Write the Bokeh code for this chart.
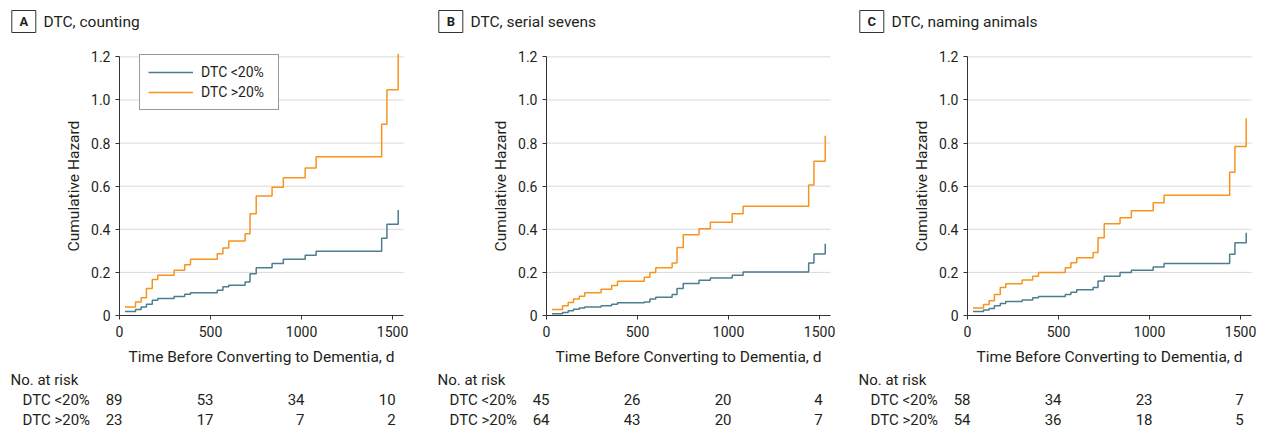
from bokeh.plotting import figure
from bokeh.layouts import row
from bokeh.models import (Range1d, FixedTicker, CustomJSTickFormatter, LinearAxis,
                          Legend, LegendItem)
from bokeh.core.properties import value
from bokeh.embed import file_html
from bokeh.resources import INLINE

# ---------------- data ----------------
times = [30, 88, 119, 148, 180, 210, 300, 358, 390, 537, 568, 600,
         690, 717, 751, 838, 900, 1020, 1080, 1440, 1469, 1531]

a_low = [0.0185, 0.028, 0.040, 0.052, 0.071, 0.079, 0.088, 0.099, 0.106, 0.117, 0.133,
         0.140, 0.156, 0.194, 0.222, 0.241, 0.261, 0.279, 0.298, 0.358, 0.423, 0.490]
a_high = [0.040, 0.063, 0.082, 0.125, 0.167, 0.187, 0.210, 0.236, 0.261, 0.287, 0.313,
          0.346, 0.379, 0.472, 0.554, 0.595, 0.639, 0.685, 0.737, 0.887, 1.047, 1.215]

b_low = [0.008, 0.014, 0.022, 0.029, 0.035, 0.040, 0.045, 0.052, 0.059, 0.063, 0.076,
         0.085, 0.097, 0.125, 0.148, 0.164, 0.174, 0.187, 0.202, 0.244, 0.285, 0.333]
b_high = [0.028, 0.045, 0.060, 0.076, 0.089, 0.106, 0.122, 0.139, 0.159, 0.177, 0.199,
          0.221, 0.244, 0.315, 0.375, 0.403, 0.433, 0.472, 0.507, 0.606, 0.716, 0.834]

c_low = [0.0185, 0.025, 0.032, 0.045, 0.056, 0.065, 0.072, 0.082, 0.088, 0.097, 0.108,
         0.120, 0.130, 0.160, 0.182, 0.199, 0.210, 0.225, 0.241, 0.284, 0.338, 0.384]
c_high = [0.035, 0.051, 0.068, 0.097, 0.130, 0.147, 0.165, 0.182, 0.200, 0.222, 0.245,
          0.268, 0.292, 0.361, 0.426, 0.453, 0.486, 0.523, 0.558, 0.665, 0.784, 0.915]

risk_times = [0, 500, 1000, 1500]
a_risk_low = [89, 53, 34, 10]
a_risk_high = [23, 17, 7, 2]
b_risk_low = [45, 26, 20, 4]
b_risk_high = [64, 43, 20, 7]
c_risk_low = [58, 34, 23, 7]
c_risk_high = [54, 36, 18, 5]

panel_letters = ["A", "B", "C"]
panel_titles = ["DTC, counting", "DTC, serial sevens", "DTC, naming animals"]
group_labels = ["DTC <20%", "DTC >20%"]
risk_heading = "No. at risk"
x_ticks = [0, 500, 1000, 1500]
y_ticks = [0, 0.2, 0.4, 0.6, 0.8, 1.0, 1.2]

# ---------------- style / layout ----------------
TEAL = "#4D7D8E"
ORANGE = "#F7941D"
TXT = "#231F20"
AXC = "#333333"
FONT = "Roboto"
XMAX = 1560                # end of the time axis
YTOP = 1.2                 # end of the hazard axis
FW, FH = 284, 264          # pixel size of the plotting area (0..XMAX, 0..1.225)
BL = 119                   # pixel position of the y axis inside each figure
Y0 = 315                   # pixel row of the x axis
H = 440                    # figure height
K = XMAX / FW              # days per pixel
KY = 1.225 / FH            # hazard units per pixel


def X(px):   # pixel offset from the y axis -> data x
    return px * K


def Y(py):   # pixel row -> data y
    return (Y0 - py) * KY


def make_panel(idx, low, high, risk_low, risk_high, width, show_legend):
    p = figure(width=width, height=H,
               x_range=Range1d(X(-BL), X(width - BL)), y_range=Range1d(Y(H), Y(0)),
               min_border_left=0, min_border_right=0, min_border_top=0,
               min_border_bottom=0, x_axis_type=None, y_axis_type=None,
               output_backend="svg", toolbar_location=None, tools="")
    p.outline_line_color = None
    p.background_fill_color = "white"
    p.border_fill_color = "white"

    # horizontal grid lines
    gy = y_ticks[1:]
    p.segment(x0=[0] * len(gy), y0=gy, x1=[XMAX] * len(gy), y1=gy,
              line_color="#D9D9D9", line_width=1)

    # axes fixed at the origin
    yax = LinearAxis(fixed_location=0, bounds=(0, YTOP),
                     ticker=FixedTicker(ticks=y_ticks),
                     formatter=CustomJSTickFormatter(
                         code="return tick == 0 ? '0' : tick.toFixed(1);"),
                     axis_label="Cumulative Hazard")
    xax = LinearAxis(fixed_location=0, bounds=(0, XMAX),
                     ticker=FixedTicker(ticks=x_ticks),
                     axis_label="Time Before Converting to Dementia, d")
    for ax in (xax, yax):
        ax.axis_line_color = AXC
        ax.major_tick_line_color = AXC
        ax.minor_tick_line_color = None
        ax.major_tick_out = 4
        ax.major_tick_in = 0
        ax.major_label_text_font = FONT
        ax.major_label_text_font_size = "14px"
        ax.major_label_text_color = TXT
        ax.axis_label_text_font = FONT
        ax.axis_label_text_font_size = "15.5px"
        ax.axis_label_text_font_style = "normal"
        ax.axis_label_text_color = TXT
    xax.major_label_standoff = 6
    xax.axis_label_standoff = 8
    yax.major_label_standoff = 5
    yax.axis_label_standoff = 5
    p.add_layout(yax, "left")
    p.add_layout(xax, "below")

    r_low = p.step(times, low, mode="after", line_color=TEAL, line_width=1.5)
    r_high = p.step(times, high, mode="after", line_color=ORANGE, line_width=1.5)

    if show_legend:
        legend = Legend(items=[LegendItem(label=group_labels[0], renderers=[r_low]),
                               LegendItem(label=group_labels[1], renderers=[r_high])],
                        location=(BL + 20, H - 110))
        legend.border_line_color = AXC
        legend.border_line_width = 1
        legend.background_fill_alpha = 1
        legend.label_text_font = FONT
        legend.label_text_font_size = "14px"
        legend.label_text_color = TXT
        legend.glyph_width = 45
        legend.glyph_height = 18
        legend.label_height = 18
        legend.label_width = 69
        legend.label_standoff = 8
        legend.padding = 8
        legend.spacing = 2
        legend.margin = 0
        p.add_layout(legend)

    # panel letter box and title
    p.rect(x=[X(-95.7)], y=[Y(21)], width=24, height=22,
           width_units="screen", height_units="screen",
           fill_color="white", line_color=AXC, line_width=1)
    p.text(x=[X(-95.7)], y=[Y(21)], text=[panel_letters[idx]],
           text_align="center", text_baseline="middle",
           text_font=value(FONT), text_font_size="13px", text_font_style="bold",
           text_color=TXT)
    p.text(x=[X(-76)], y=[Y(21)], text=[panel_titles[idx]],
           text_align="left", text_baseline="middle",
           text_font=value(FONT), text_font_size="15.5px", text_color=TXT)

    # number at risk table
    rows_y = [Y(379), Y(399), Y(419)]
    p.text(x=[X(-109)], y=[rows_y[0]], text=[risk_heading],
           text_align="left", text_baseline="middle",
           text_font=value(FONT), text_font_size="15px", text_color=TXT)
    for gi, vals in enumerate((risk_low, risk_high)):
        yy = rows_y[gi + 1]
        p.text(x=[X(-97)], y=[yy], text=[group_labels[gi]],
               text_align="left", text_baseline="middle",
               text_font=value(FONT), text_font_size="15px", text_color=TXT)
        p.text(x=risk_times, y=[yy] * len(risk_times), text=[str(v) for v in vals],
               x_offset=3, text_align="right", text_baseline="middle",
               text_font=value(FONT), text_font_size="15px", text_color=TXT)
    return p


pa = make_panel(0, a_low, a_high, a_risk_low, a_risk_high, 427, True)
pb = make_panel(1, b_low, b_high, b_risk_low, b_risk_high, 421, False)
pc = make_panel(2, c_low, c_high, c_risk_low, c_risk_high, 416, False)

layout = row(pa, pb, pc)
open("out.html", "w").write(file_html(layout, INLINE))
